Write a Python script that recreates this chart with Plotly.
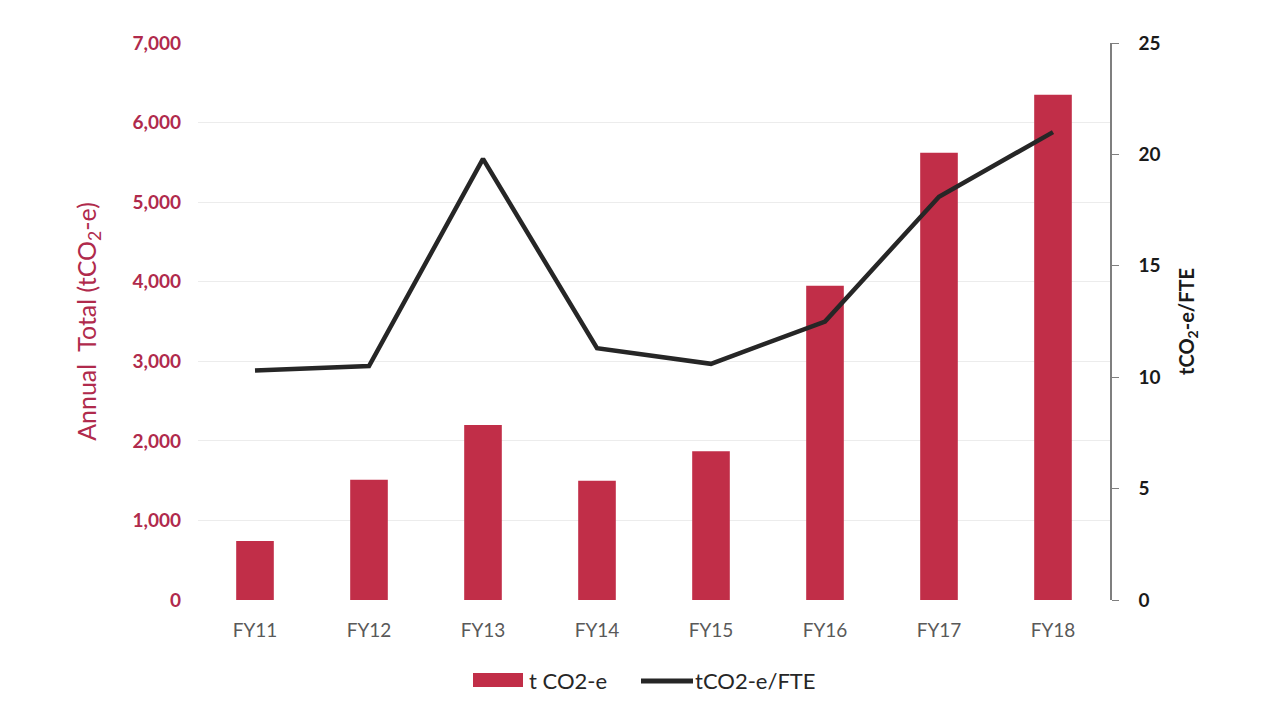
import plotly.graph_objects as go

years = ["FY11", "FY12", "FY13", "FY14", "FY15", "FY16", "FY17", "FY18"]
annual_total = [740, 1510, 2200, 1500, 1870, 3950, 5620, 6350]
per_fte = [10.3, 10.5, 19.8, 11.3, 10.6, 12.5, 18.1, 21.0]

left_ticks = [0, 1000, 2000, 3000, 4000, 5000, 6000, 7000]
right_ticks = [0, 5, 10, 15, 20, 25]

BAR = "#C12E48"
LINE = "#262626"
LEFT_TXT = "#B02A4C"
FONT = "Lato, 'Open Sans', sans-serif"

W, H = 1283, 719
ML, MR, MT, MB = 198, 173, 43, 119
PW, PH = W - ML - MR, H - MT - MB


def px(x):
    """Horizontal pixel -> paper fraction."""
    return (x - ML) / PW


def py(y):
    """Vertical pixel (from top) -> paper fraction."""
    return (H - MB - y) / PH


fig = go.Figure()
fig.add_trace(go.Bar(
    x=years, y=annual_total, name="t CO2-e",
    marker=dict(color=BAR, line=dict(width=0)),
    width=0.33, yaxis="y", showlegend=False,
))
fig.add_trace(go.Scatter(
    x=years, y=per_fte, name="tCO2-e/FTE", mode="lines",
    line=dict(color=LINE, width=4.5), yaxis="y2", showlegend=False,
))

# legend drawn by hand so the swatches keep their wide proportions
shapes = [
    dict(type="rect", xref="paper", yref="paper",
         x0=px(473), x1=px(523), y0=py(687), y1=py(673),
         fillcolor=BAR, line=dict(width=0)),
    dict(type="line", xref="paper", yref="paper",
         x0=px(641), x1=px(693), y0=py(681), y1=py(681),
         line=dict(color=LINE, width=5)),
]
annotations = [
    dict(text="t CO2-e", xref="paper", yref="paper", x=px(527), y=py(680),
         xanchor="left", yanchor="middle", showarrow=False,
         font=dict(size=22, color="#262626", family=FONT)),
    dict(text="tCO2-e/FTE", xref="paper", yref="paper", x=px(693), y=py(680),
         xanchor="left", yanchor="middle", showarrow=False,
         font=dict(size=22, color="#262626", family=FONT)),
]

fig.update_layout(
    width=W, height=H,
    margin=dict(l=ML, r=MR, t=MT, b=MB),
    paper_bgcolor="white", plot_bgcolor="white",
    font=dict(family=FONT),
    showlegend=False,
    shapes=shapes,
    annotations=annotations,
    xaxis=dict(
        type="category", showgrid=False, showline=False, zeroline=False,
        tickfont=dict(size=19, color="#595959"), ticks="", ticklabelstandoff=17,
    ),
    yaxis=dict(
        range=[0, 7000], tickvals=left_ticks, tickformat=",",
        showgrid=True, gridcolor="#ececec", gridwidth=1,
        zeroline=False, showline=False,
        tickfont=dict(size=19, color=LEFT_TXT, family=FONT, weight="bold"),
        ticklabelstandoff=16,
        title=dict(text="Annual  Total (tCO<sub>2</sub>-e)",
                   font=dict(size=25, color=LEFT_TXT, family=FONT),
                   standoff=28),
    ),
    yaxis2=dict(
        range=[0, 25], tickvals=right_ticks, overlaying="y", side="right",
        showgrid=False, zeroline=False,
        showline=True, linecolor="#7f7f7f", linewidth=1.5,
        ticks="outside", ticklen=7, tickcolor="#7f7f7f",
        tickfont=dict(size=19, color="#1a1a1a", family=FONT, weight="bold"),
        ticklabelstandoff=16,
        title=dict(text="tCO<sub>2</sub>-e/FTE",
                   font=dict(size=20, color="#1a1a1a", family=FONT, weight="bold"),
                   standoff=20),
    ),
)

fig.write_html("out.html")
